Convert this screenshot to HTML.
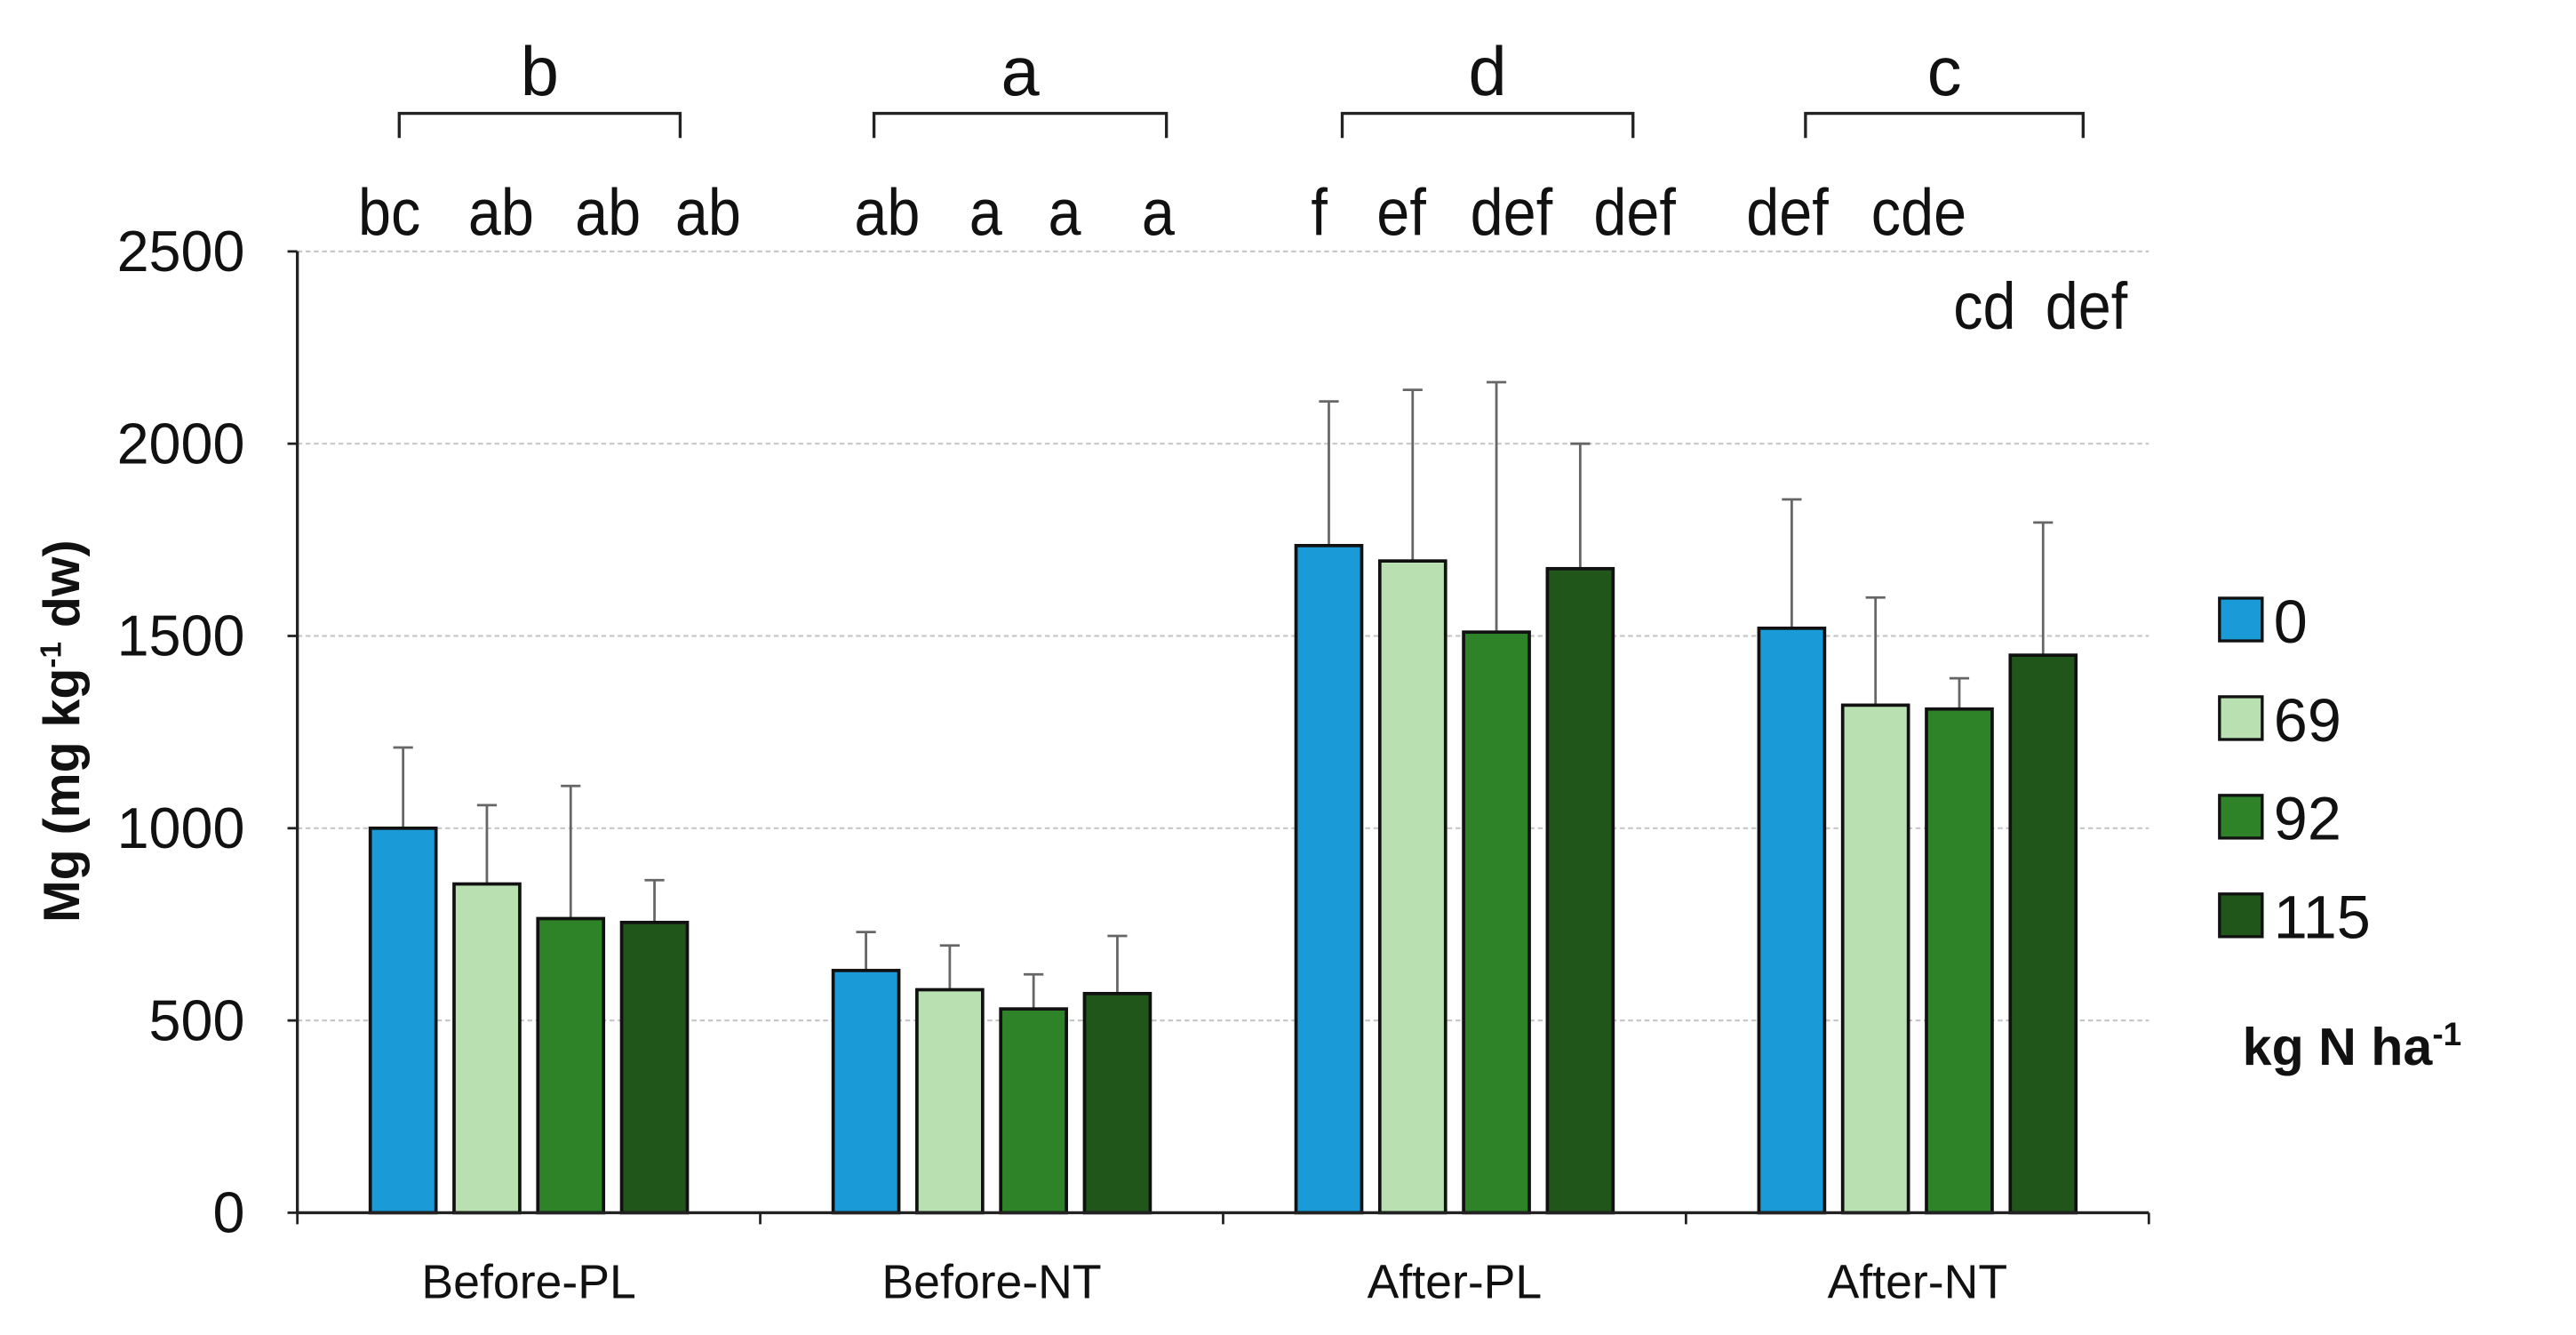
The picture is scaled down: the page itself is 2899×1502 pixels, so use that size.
<!DOCTYPE html>
<html><head><meta charset="utf-8"><style>
html,body{margin:0;padding:0;background:#fff;}
svg{display:block;}
text{font-family:"Liberation Sans",sans-serif;fill:#111;}
</style></head><body>
<svg id="chart" width="2899" height="1502" viewBox="0 0 1568 812.4" xmlns="http://www.w3.org/2000/svg">
<g id="grid"></g>
<g id="bars"></g>
<g id="axes"></g>
<g id="letters"></g>
<g id="legend"></g>
<text transform="translate(48,445) rotate(-90)" text-anchor="middle" font-size="31" font-weight="bold">Mg (mg kg<tspan font-size="18" dy="-11">-1</tspan><tspan dy="11"> dw)</tspan></text>
<text x="1365" y="648" font-size="32" font-weight="bold">kg N ha<tspan font-size="20" dy="-12">-1</tspan></text>
</svg>
<script>
const categories = ["Before-PL","Before-NT","After-PL","After-NT"];
const seriesNames = ["0","69","92","115"];
const values0 = [1000,630,1735,1520];
const values69 = [855,580,1695,1320];
const values92 = [765,530,1510,1310];
const values115 = [755,570,1675,1450];
const err0 = [210,100,375,335];
const err69 = [205,115,445,280];
const err92 = [345,90,650,80];
const err115 = [110,150,325,345];
const yTicks = [0,500,1000,1500,2000,2500];
const groupLetters = ["b","a","d","c"];
const barLetters = [["bc","ab","ab","ab"],["ab","a","a","a"],["f","ef","def","def"],["def","cde","cd","def"]];
const colors = ["#1a9ad6","#b9e0b1","#2e8228","#20561a"];

// label layout (display coords)
const letterX = [[237,305,370,431],[540,600,648,705],[803,853,920,995],[1088,1168,1208,1270]];
const letterY = [[143,143,143,143],[143,143,143,143],[143,143,143,143],[143,143,200,200]];
const bracketL = [243,532,817,1099];
const bracketR = [414,710,994,1268];

const NS="http://www.w3.org/2000/svg";
const X0=181,X1=1308,Y0=738,YT=153,YMAX=2500;
const groupW=(X1-X0)/categories.length, step=51, barW=40;
function y(v){return Y0-(v/YMAX)*(Y0-YT);}
function gx(i){return X0+groupW*(i+0.5);}
function bx(i,s){return gx(i)+(s-1.5)*step;}
function mk(tag,attrs,parent){const e=document.createElementNS(NS,tag);for(const k in attrs)e.setAttribute(k,attrs[k]);parent.appendChild(e);return e;}
const grid=document.getElementById('grid'),bars=document.getElementById('bars'),axes=document.getElementById('axes'),letters=document.getElementById('letters'),legend=document.getElementById('legend');

yTicks.forEach(t=>{
  if(t>0){const g=mk('line',{x1:X0,x2:X1,y1:y(t),y2:y(t),stroke:'#c8c8c8','stroke-width':1.2,'stroke-dasharray':'3,2'},grid);
  
  }
  const tk=mk('line',{x1:X0-6,x2:X0,y1:y(t),y2:y(t),stroke:'#222','stroke-width':1.5},axes);
  
  
  const lb=mk('text',{x:X0-32,y:y(t)+12,'text-anchor':'end','font-size':35},axes);
  
  
  lb.textContent=t;
});
const ya=mk('line',{x1:X0,x2:X0,y1:YT,y2:Y0,stroke:'#222','stroke-width':1.8},axes);


const xa=mk('line',{x1:X0,x2:X1,y1:Y0,y2:Y0,stroke:'#222','stroke-width':1.8},axes);


for(let i=0;i<=categories.length;i++){
  const t=mk('line',{x1:X0+groupW*i,x2:X0+groupW*i,y1:Y0,y2:Y0+7,stroke:'#222','stroke-width':1.5},axes);
  
  
}
const allVals=[values0,values69,values92,values115], allErr=[err0,err69,err92,err115];
categories.forEach((c,i)=>{
  const lb=mk('text',{x:gx(i),y:Y0+52,'text-anchor':'middle','font-size':29},axes);
  
  
  lb.textContent=c;
  for(let s=0;s<4;s++){
    const v=allVals[s][i],e=allErr[s][i],cx=bx(i,s);
    const el=mk('line',{x1:cx,x2:cx,y1:y(v+e),y2:y(v),stroke:'#666','stroke-width':1.5},bars);
    
    
    const cap=mk('line',{x1:cx-6,x2:cx+6,y1:y(v+e),y2:y(v+e),stroke:'#666','stroke-width':1.5},bars);
    
    
    const r=mk('rect',{x:cx-barW/2,y:y(v),width:barW,height:Y0-y(v),fill:colors[s],stroke:'#111','stroke-width':2},bars);
    
    
  }
  const bxL=bracketL[i],bxR=bracketR[i];
  const br=mk('path',{d:`M${bxL},84 V69 H${bxR} V84`,fill:'none',stroke:'#222','stroke-width':1.8},letters);
  
  
  const gl=mk('text',{x:(bxL+bxR)/2,y:58,'text-anchor':'middle','font-size':42},letters);
  
  
  gl.textContent=groupLetters[i];
  for(let s=0;s<4;s++){
    const tx=letterX[i][s],ty=letterY[i][s];
    const t=mk('text',{x:tx,y:ty,'text-anchor':'middle','font-size':40,transform:`translate(${tx},0) scale(0.9,1) translate(${-tx},0)`},letters);
    
    
    t.textContent=barLetters[i][s];
  }
});
seriesNames.forEach((n,s)=>{
  const yy=377+60*s;
  const r=mk('rect',{x:1351,y:yy-13,width:26,height:26,fill:colors[s],stroke:'#111','stroke-width':1.8},legend);
  
  
  const t=mk('text',{x:1384,y:yy+14,'font-size':37},legend);
  
  
  t.textContent=n;
});
</script>
</body></html>
